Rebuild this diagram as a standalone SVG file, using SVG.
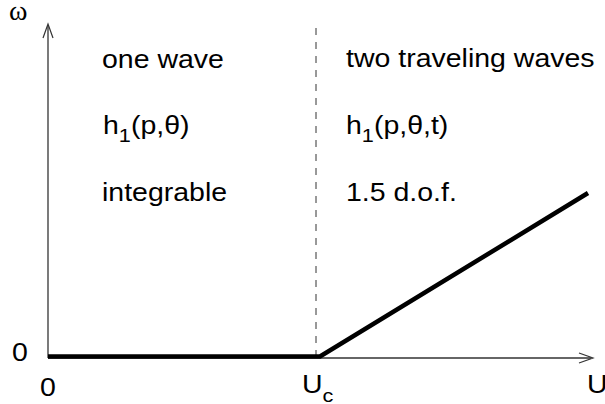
<svg xmlns="http://www.w3.org/2000/svg" width="605" height="404" viewBox="0 0 605 404">
<style>
text{font-family:"Liberation Sans",Arial,sans-serif;font-size:25px;fill:#000}
.sub{font-size:19px}
.om{font-family:"Liberation Serif","Times New Roman",serif;font-size:28px}
.ax{stroke:#333;stroke-width:1.3;fill:none}
.arr{stroke:#333;stroke-width:1.2;fill:none}
</style>
<rect width="605" height="404" fill="#fff"/>
<g id="connectors">
<line class="ax" x1="48" y1="358" x2="48" y2="26"/>
<polyline class="arr" points="43,38 48,24 53,38"/>
<line class="ax" x1="48" y1="358" x2="591" y2="358"/>
<polyline class="arr" points="579,353 593,358 579,363"/>
<line x1="316" y1="28" x2="316" y2="357" stroke="#333" stroke-width="1" stroke-dasharray="7,7"/>
<polyline points="48,356.5 320,356.5 588,193" fill="none" stroke="#000" stroke-width="4.5"/>
</g>
<g id="labels">
<text class="om" x="9" y="20">ω</text>
<text transform="translate(12,361) scale(1.14,1)">0</text>
<text transform="translate(40,396) scale(1.14,1)">0</text>
<text transform="translate(302,393) scale(1.14,1)">U<tspan class="sub" dy="9">c</tspan></text>
<text transform="translate(587,393) scale(1.14,1)">U</text>
</g>
<g id="left">
<text transform="translate(102,68) scale(1.14,1)">one wave</text>
<text transform="translate(103,134) scale(1.14,1)">h<tspan class="sub" dy="8">1</tspan><tspan dy="-8">(p,θ)</tspan></text>
<text transform="translate(102,201) scale(1.14,1)">integrable</text>
</g>
<g id="right">
<text transform="translate(346,67) scale(1.14,1)">two traveling waves</text>
<text transform="translate(346,134) scale(1.14,1)">h<tspan class="sub" dy="8">1</tspan><tspan dy="-8">(p,θ,t)</tspan></text>
<text transform="translate(346,201) scale(1.14,1)">1.5 d.o.f.</text>
</g>
</svg>
